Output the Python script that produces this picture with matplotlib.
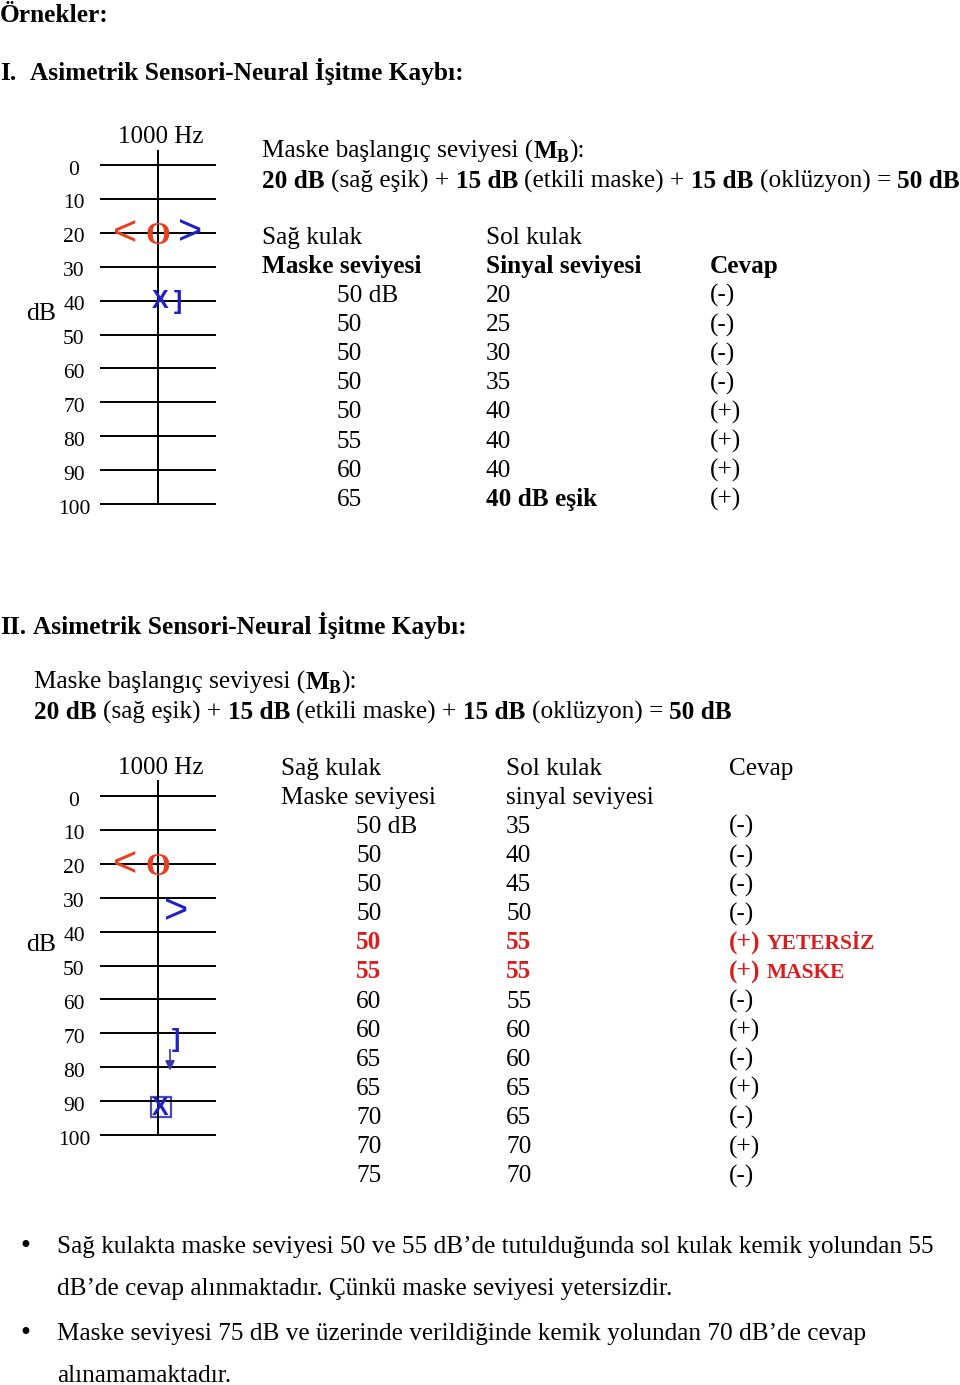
import matplotlib
matplotlib.use('Agg')
import matplotlib.pyplot as plt
from matplotlib.patches import Rectangle

SERIF = 'Liberation Serif'
SANS = 'Liberation Sans'
BODY = 18.2
HEAD = 18.3
RED = '#e5401f'
BLUE = '#2020c8'
TRED = '#d81e1e'

# audiogram levels
levels = [0, 10, 20, 30, 40, 50, 60, 70, 80, 90, 100]

# example I
t1_mask = ['50 dB', '50', '50', '50', '50', '55', '60', '65']
t1_signal = ['20', '25', '30', '35', '40', '40', '40', '40 dB eşik']
t1_resp = ['(-)', '(-)', '(-)', '(-)', '(+)', '(+)', '(+)', '(+)']

# example II
t2_mask = ['50 dB', '50', '50', '50', '50', '55', '60', '60', '65', '65', '70', '70', '75']
t2_signal = ['35', '40', '45', '50', '55', '55', '55', '60', '60', '65', '65', '70', '70']
t2_resp = ['(-)', '(-)', '(-)', '(-)', '(+)', '(+)', '(-)', '(+)', '(-)', '(+)', '(-)', '(+)', '(-)']
t2_note = {4: 'YETERSİZ', 5: 'MASKE'}
t2_red = [4, 5]

bullets = [
    ['Sağ kulakta maske seviyesi 50 ve 55 dB’de tutulduğunda sol kulak kemik yolundan 55',
     'dB’de cevap alınmaktadır. Çünkü maske seviyesi yetersizdir.'],
    ['Maske seviyesi 75 dB ve üzerinde verildiğinde kemik yolundan 70 dB’de cevap',
     'alınamamaktadır.'],
]

fig = plt.figure(figsize=(9.6, 13.85), dpi=100)
ax = fig.add_axes([0, 0, 1, 1])
ax.set_xlim(0, 960)
ax.set_ylim(1385, 0)
ax.axis('off')
renderer = fig.canvas.get_renderer()


def width(t):
    bb = t.get_window_extent(renderer=renderer)
    return bb.width


def space_w(kw):
    a = ax.text(0, 0, 'x x', **kw)
    b = ax.text(0, 0, 'xx', **kw)
    w = width(a) - width(b)
    a.remove()
    b.remove()
    return w


def runs(x, y, parts, size=BODY):
    # parts: (text, weight, color, size factor, dy)
    for p in parts:
        s, wgt = p[0], p[1]
        col = p[2] if len(p) > 2 else 'black'
        fs = size * (p[3] if len(p) > 3 else 1.0)
        dy = p[4] if len(p) > 4 else 0
        kw = dict(family=SERIF, fontsize=fs, fontweight=wgt, color=col, va='baseline', ha='left')
        sw = space_w(kw)
        lead = len(s) - len(s.lstrip(' '))
        trail = len(s) - len(s.rstrip(' '))
        x += lead * sw
        st = s.strip(' ')
        if st:
            t = ax.text(x, y + dy, st, **kw)
            x += width(t)
        x += trail * sw
    return x


def txt(x, y, s, wgt='normal', col='black', size=BODY, ha='left'):
    ax.text(x, y, s, family=SERIF, fontsize=size, fontweight=wgt, color=col, va='baseline', ha=ha)


def audiogram(top, vtop):
    sc = 3.39
    a = fig.add_axes([0, 1 - (top + 110 * sc) / 1385, 260 / 960, 125 * sc / 1385])
    a.set_xlim(0, 260)
    a.set_ylim(110, -15)
    a.axis('off')
    a.hlines(levels, 100, 216, color='black', lw=1.4)
    a.vlines(158, (vtop - top) / sc, 100, color='black', lw=1.4)
    for lv in levels:
        a.text(74, lv + 1.5, str(lv), family=SERIF, fontsize=15.5, ha='center', va='center')
    a.text(41, 44, 'dB', family=SERIF, fontsize=18.5, ha='center', va='center')
    a.text(161, -8.3, '1000 Hz', family=SERIF, fontsize=18, ha='center', va='center')
    return a


def mask_header(y, mb_x):
    runs(mb_x, y, [('Maske başlangıç seviyesi (', 'normal'), ('M', 'bold'),
                   ('B', 'bold', 'black', 0.7, 4), ('):', 'normal')])
    runs(mb_x, y + 30, [('20 dB', 'bold'), (' (sağ eşik) + ', 'normal'), ('15 dB', 'bold'),
                        (' (etkili maske) + ', 'normal'), ('15 dB', 'bold'),
                        (' (oklüzyon) = ', 'normal'), ('50 dB', 'bold')])


# ---- headings
txt(0, 22, 'Örnekler:', 'bold', size=HEAD)
txt(0, 80, 'I.', 'bold', size=HEAD)
txt(30, 80, 'Asimetrik Sensori-Neural İşitme Kaybı:', 'bold', size=HEAD)

# ---- example I
a1 = audiogram(165, 150)
sym = dict(ha='center', va='center')
a1.text(125, 20.3, '<', family=SANS, fontsize=30, color=RED, **sym)
a1.text(158, 21.2, 'O', family=SERIF, fontsize=23, fontweight='bold', color=RED, **sym)
a1.text(190, 20.0, '>', family=SANS, fontsize=30, color=BLUE, **sym)
a1.text(160, 40.0, 'X', family=SANS, fontsize=18, fontweight='bold', color=BLUE, **sym)
a1.text(178, 40.5, ']', family=SANS, fontsize=18, fontweight='bold', color=BLUE, **sym)

mask_header(158, 262)
txt(262, 244, 'Sağ kulak')
txt(486, 244, 'Sol kulak')
txt(262, 273, 'Maske seviyesi', 'bold')
txt(486, 273, 'Sinyal seviyesi', 'bold')
txt(710, 273, 'Cevap', 'bold')
for i in range(len(t1_mask)):
    y = 302 + i * 29.1
    txt(337, y, t1_mask[i])
    txt(486, y, t1_signal[i], 'bold' if 'eşik' in t1_signal[i] else 'normal')
    txt(710, y, t1_resp[i])

# ---- example II
txt(0, 634, 'II.', 'bold', size=HEAD)
txt(33, 634, 'Asimetrik Sensori-Neural İşitme Kaybı:', 'bold', size=HEAD)
mask_header(689, 34)

a2 = audiogram(796, 780)
a2.text(125, 20.3, '<', family=SANS, fontsize=30, color=RED, **sym)
a2.text(158, 21.2, 'O', family=SERIF, fontsize=23, fontweight='bold', color=RED, **sym)
a2.text(176, 34.3, '>', family=SANS, fontsize=30, color=BLUE, **sym)
a2.text(176, 72.0, ']', family=SANS, fontsize=18, fontweight='bold', color=BLUE, **sym)
a2.annotate('', xy=(170, 81.8), xytext=(170, 74.0),
            arrowprops=dict(arrowstyle='-|>', color='#3a3aa0', lw=1.2, mutation_scale=14))
a2.text(160, 91.9, 'X', family=SANS, fontsize=18, fontweight='bold', color=BLUE, **sym)
a2.add_patch(Rectangle((151, 88.9), 20, 5.9, fill=False, ec='#4a4ac0', lw=1.6))

txt(281, 775, 'Sağ kulak')
txt(506, 775, 'Sol kulak')
txt(729, 775, 'Cevap')
txt(281, 804, 'Maske seviyesi')
txt(506, 804, 'sinyal seviyesi')
for i in range(len(t2_mask)):
    y = 833 + i * 29.1
    red = i in t2_red
    w = 'bold' if red else 'normal'
    c = TRED if red else 'black'
    txt(356, y, t2_mask[i], w, c)
    txt(506, y, t2_signal[i], w, c)
    if i in t2_note:
        runs(729, y, [(t2_resp[i] + ' ', w, c), (t2_note[i], 'bold', c, 0.85)])
    else:
        txt(729, y, t2_resp[i], w, c)

# ---- bullets
by = [1253, 1340]
for b, lines in zip(by, bullets):
    ax.text(25, b, '•', family='DejaVu Sans', fontsize=17, va='baseline', ha='center')
    for j, line in enumerate(lines):
        txt(57, b + j * 42, line)

fig.savefig('out.png', dpi=100)
